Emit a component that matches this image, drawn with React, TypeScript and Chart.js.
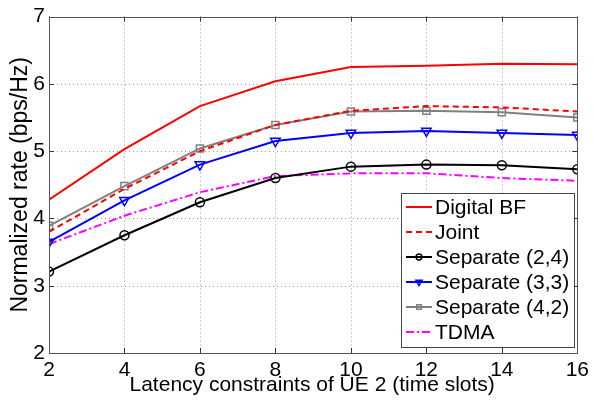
import React, { useEffect, useRef } from "react";
import { Chart, registerables } from "chart.js";

Chart.register(...registerables);

const latency = [2, 4, 6, 8, 10, 12, 14, 16];
const digitalBF = [4.28, 5.03, 5.67, 6.04, 6.25, 6.27, 6.3, 6.29];
const joint = [3.8, 4.44, 5.0, 5.39, 5.6, 5.67, 5.65, 5.59];
const sep24 = [3.21, 3.75, 4.24, 4.6, 4.77, 4.8, 4.79, 4.73];
const sep33 = [3.65, 4.27, 4.8, 5.15, 5.27, 5.3, 5.27, 5.24];
const sep42 = [3.89, 4.48, 5.04, 5.39, 5.59, 5.6, 5.58, 5.5];
const tdma = [3.62, 4.04, 4.39, 4.63, 4.67, 4.67, 4.6, 4.56];

const xTicks = [2, 4, 6, 8, 10, 12, 14, 16];
const yTicks = [2, 3, 4, 5, 6, 7];
const xTitle = "Latency constraints of UE 2 (time slots)";
const yTitle = "Normalized rate (bps/Hz)";

const FONT = "'Liberation Sans', Arial, Helvetica, sans-serif";

const toPts = (ys: number[]) => ys.map((y, i) => ({ x: latency[i], y }));

function drawMarker(ctx: CanvasRenderingContext2D, style: string, rot: number, r: number, x: number, y: number) {
  ctx.beginPath();
  if (style === "circle") {
    ctx.arc(x, y, r, 0, Math.PI * 2);
  } else if (style === "rect") {
    const s = r * Math.SQRT1_2;
    ctx.rect(x - s, y - s, 2 * s, 2 * s);
  } else if (style === "triangle") {
    const sign = rot === 180 ? -1 : 1;
    for (let k = 0; k < 3; k++) {
      const ang = -Math.PI / 2 + (k * 2 * Math.PI) / 3;
      const px = x + Math.cos(ang) * r;
      const py = y + sign * Math.sin(ang) * r;
      if (k === 0) ctx.moveTo(px, py);
      else ctx.lineTo(px, py);
    }
    ctx.closePath();
  }
  ctx.stroke();
}

const gridPlugin = {
  id: "dottedGrid",
  beforeDatasetsDraw(chart: any) {
    const { ctx, chartArea: a, scales } = chart;
    ctx.save();
    ctx.strokeStyle = "#9a9a9a";
    ctx.lineWidth = 1;
    ctx.setLineDash([1, 3]);
    xTicks.forEach((v) => {
      const x = Math.round(scales.x.getPixelForValue(v)) + 0.5;
      ctx.beginPath();
      ctx.moveTo(x, a.top);
      ctx.lineTo(x, a.bottom);
      ctx.stroke();
    });
    yTicks.forEach((v) => {
      const y = Math.round(scales.y.getPixelForValue(v)) + 0.5;
      ctx.beginPath();
      ctx.moveTo(a.left, y);
      ctx.lineTo(a.right, y);
      ctx.stroke();
    });
    ctx.restore();
  },
};

const frameAndLegend = {
  id: "frameAndLegend",
  afterDatasetsDraw(chart: any) {
    const { ctx, chartArea: a, scales } = chart;
    ctx.save();
    ctx.strokeStyle = "#333";
    ctx.lineWidth = 1;
    ctx.setLineDash([]);
    const tl = 5;
    xTicks.forEach((v) => {
      const x = Math.round(scales.x.getPixelForValue(v)) + 0.5;
      ctx.beginPath();
      ctx.moveTo(x, a.bottom);
      ctx.lineTo(x, a.bottom - tl);
      ctx.moveTo(x, a.top);
      ctx.lineTo(x, a.top + tl);
      ctx.stroke();
    });
    yTicks.forEach((v) => {
      const y = Math.round(scales.y.getPixelForValue(v)) + 0.5;
      ctx.beginPath();
      ctx.moveTo(a.left, y);
      ctx.lineTo(a.left + tl, y);
      ctx.moveTo(a.right, y);
      ctx.lineTo(a.right - tl, y);
      ctx.stroke();
    });
    ctx.strokeStyle = "#555";
    ctx.strokeRect(Math.round(a.left) + 0.5, Math.round(a.top) + 0.5, Math.round(a.right - a.left), Math.round(a.bottom - a.top));

    // axis titles
    ctx.fillStyle = "#000";
    ctx.textAlign = "center";
    ctx.textBaseline = "alphabetic";
    ctx.font = `21px ${FONT}`;
    ctx.fillText(xTitle, (a.left + a.right) / 2 - 1, 391);
    ctx.save();
    ctx.translate(27, (a.top + a.bottom) / 2);
    ctx.rotate(-Math.PI / 2);
    ctx.font = `23px ${FONT}`;
    ctx.fillText(yTitle, 0, 0);
    ctx.restore();

    // legend
    const bx = 401, by = 193, bw = 173, bh = 154;
    ctx.fillStyle = "#fff";
    ctx.fillRect(bx, by, bw, bh);
    ctx.strokeStyle = "#444";
    ctx.lineWidth = 1;
    ctx.strokeRect(bx + 0.5, by + 0.5, bw, bh);
    ctx.font = `21px ${FONT}`;
    ctx.textBaseline = "middle";
    ctx.textAlign = "left";
    chart.data.datasets.forEach((ds: any, i: number) => {
      const cy = by + 14 + i * 25;
      ctx.strokeStyle = ds.borderColor;
      ctx.lineWidth = ds.borderWidth;
      ctx.setLineDash(ds.borderDash || []);
      ctx.beginPath();
      ctx.moveTo(406, cy);
      ctx.lineTo(432, cy);
      ctx.stroke();
      ctx.setLineDash([]);
      if (ds.pointRadius > 0) {
        ctx.lineWidth = 1.5;
        drawMarker(ctx, ds.pointStyle, ds.pointRotation || 0, ds.pointRadius * 0.65, 419, cy);
      }
      ctx.fillStyle = "#000";
      ctx.fillText(ds.label, 435, cy + 1);
    });
    ctx.restore();
  },
};

export default function App() {
  const ref = useRef<HTMLCanvasElement>(null);
  useEffect(() => {
    const common = { fill: false, tension: 0, pointBackgroundColor: "transparent", pointBorderWidth: 1.5 };
    const chart = new Chart(ref.current!, {
      type: "line",
      data: {
        datasets: [
          { ...common, label: "Digital BF", data: toPts(digitalBF), borderColor: "#ff0000", borderWidth: 2, pointRadius: 0 },
          { ...common, label: "Joint", data: toPts(joint), borderColor: "#ff0000", borderWidth: 2, borderDash: [6, 4], pointRadius: 0 },
          { ...common, label: "Separate (2,4)", data: toPts(sep24), borderColor: "#000000", pointBorderColor: "#000000", borderWidth: 2, pointRadius: 4.5, pointStyle: "circle" },
          { ...common, label: "Separate (3,3)", data: toPts(sep33), borderColor: "#0000ff", pointBorderColor: "#0000ff", borderWidth: 2, pointRadius: 5.5, pointStyle: "triangle", pointRotation: 180 },
          { ...common, label: "Separate (4,2)", data: toPts(sep42), borderColor: "#808080", pointBorderColor: "#808080", borderWidth: 2, pointRadius: 5, pointStyle: "rect" },
          { ...common, label: "TDMA", data: toPts(tdma), borderColor: "#ff00ff", borderWidth: 2, borderDash: [8, 3, 2, 3], pointRadius: 0 },
        ] as any,
      },
      options: {
        responsive: false,
        animation: false,
        layout: { padding: { top: 15, right: 16, left: 0, bottom: 0 } },
        plugins: { legend: { display: false }, tooltip: { enabled: false } },
        scales: {
          x: {
            type: "linear",
            min: 2,
            max: 16,
            afterBuildTicks: (s: any) => { s.ticks = xTicks.map((v) => ({ value: v })); },
            afterFit: (s: any) => { s.height = 47; },
            grid: { display: false, drawTicks: false },
            border: { display: false },
            ticks: { color: "#000", font: { family: FONT, size: 21 }, padding: 5, maxRotation: 0 },
            title: { display: false },
          },
          y: {
            type: "linear",
            min: 2,
            max: 7,
            afterBuildTicks: (s: any) => { s.ticks = yTicks.map((v) => ({ value: v })); },
            afterFit: (s: any) => { s.width = 49; },
            grid: { display: false, drawTicks: false },
            border: { display: false },
            ticks: { color: "#000", font: { family: FONT, size: 21 }, padding: 4 },
            title: { display: false },
          },
        },
      } as any,
      plugins: [gridPlugin, frameAndLegend],
    });
    return () => chart.destroy();
  }, []);
  return (
    <div style={{ position: "fixed", left: 0, top: 0, width: 594, height: 400, background: "#fff" }}>
      <canvas ref={ref} width={594} height={400} style={{ width: 594, height: 400, display: "block" }} />
    </div>
  );
}
